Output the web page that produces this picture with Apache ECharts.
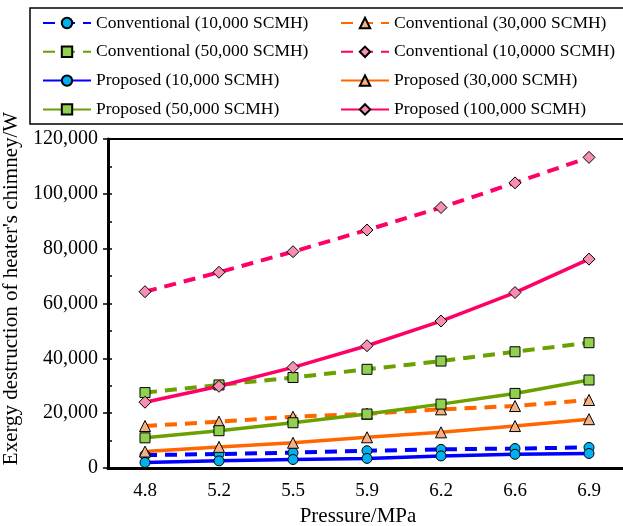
<!DOCTYPE html>
<html>
<head>
<meta charset="utf-8">
<script src="https://cdn.jsdelivr.net/npm/echarts@6/dist/echarts.min.js"></script>
<style>html,body{margin:0;padding:0;background:#fff}#c{width:623px;height:526px}</style>
</head>
<body>
<div id="c"></div>
<script>
const categories = ['4.8', '5.2', '5.5', '5.9', '6.2', '6.6', '6.9'];
const yTicks = [0, 20000, 40000, 60000, 80000, 100000, 120000];
const conv10 = [4700, 5100, 5600, 6300, 6800, 7100, 7500];
const conv30 = [15300, 16900, 18700, 19800, 21400, 22600, 24800];
const conv50 = [27500, 30300, 33000, 36000, 39000, 42400, 45700];
const conv100 = [64300, 71400, 78900, 86800, 95000, 104000, 113300];
const prop10 = [2000, 2600, 3100, 3500, 4400, 5000, 5300];
const prop30 = [6000, 7700, 9200, 11200, 13000, 15300, 17800];
const prop50 = [11000, 13600, 16500, 19700, 23300, 27200, 32100];
const prop100 = [24000, 29800, 36700, 44600, 53600, 64000, 76200];
const names = {
  c10: 'Conventional (10,000 SCMH)', c30: 'Conventional (30,000 SCMH)',
  c50: 'Conventional (50,000 SCMH)', c100: 'Conventional (10,0000 SCMH)',
  p10: 'Proposed (10,000 SCMH)', p30: 'Proposed (30,000 SCMH)',
  p50: 'Proposed (50,000 SCMH)', p100: 'Proposed (100,000 SCMH)'
};
const FONT = '"Liberation Serif", "Times New Roman", serif';
const sty = {
  blue: { line: '#0000FF', fill: '#00B0F0', sym: 'circle', size: 10 },
  orange: { line: '#FF6600', fill: '#F4B183', sym: 'triangle', size: 11 },
  green: { line: '#6AA000', fill: '#92D050', sym: 'rect', size: 10 },
  pink: { line: '#FF0066', fill: '#F78FB3', sym: 'diamond', size: 12 }
};
function mk(name, data, s, dashed) {
  return {
    name, type: 'line', data, symbol: s.sym, symbolSize: s.size,
    lineStyle: { color: s.line, width: dashed ? 4 : 3.5, type: dashed ? [12, 8] : 'solid' },
    itemStyle: { color: s.fill, borderColor: '#000', borderWidth: 1 },
    color: s.line,
    emphasis: { disabled: true }, animation: false
  };
}
const series = [
  mk(names.c10, conv10, sty.blue, true),
  mk(names.c30, conv30, sty.orange, true),
  mk(names.c50, conv50, sty.green, true),
  mk(names.c100, conv100, sty.pink, true),
  mk(names.p10, prop10, sty.blue, false),
  mk(names.p30, prop30, sty.orange, false),
  mk(names.p50, prop50, sty.green, false),
  mk(names.p100, prop100, sty.pink, false)
];
const legendCommon = {
  orient: 'vertical', top: 13, padding: 0, itemWidth: 48, itemHeight: 13, itemGap: 8.8,
  textStyle: { fontFamily: FONT, fontSize: 17.5, color: '#000', lineHeight: 20 },
  selectedMode: false
};
const chart = echarts.init(document.getElementById('c'), null, { renderer: 'canvas' });
chart.setOption({
  backgroundColor: '#fff',
  animation: false,
  grid: { left: 108, right: -3, top: 139, bottom: 58, show: true, borderColor: '#000', borderWidth: 2,
    containLabel: false, outerBoundsMode: 'none' },
  legend: [
    Object.assign({}, legendCommon, { left: 42, data: [names.c10, names.c50, names.p10, names.p50] }),
    Object.assign({}, legendCommon, { left: 340, data: [names.c30, names.c100, names.p30, names.p100] })
  ],
  graphic: [{ type: 'rect', shape: { x: 30, y: 8, width: 620, height: 116 }, style: { fill: 'none', stroke: '#000', lineWidth: 1.5 }, z: 100 }],
  xAxis: {
    type: 'category', data: categories, boundaryGap: true,
    name: 'Pressure/MPa', nameLocation: 'middle', nameGap: 36,
    nameTextStyle: { fontFamily: FONT, fontSize: 21, color: '#000', padding: [0, 18, 0, 0] },
    axisLine: { lineStyle: { color: '#000', width: 3 } },
    axisTick: { alignWithLabel: true, length: 5, lineStyle: { color: '#000', width: 1.5 } },
    axisLabel: { fontFamily: FONT, fontSize: 19, color: '#000', margin: 14 },
    splitLine: { show: false }
  },
  yAxis: [{
    type: 'value', min: 0, max: 120000, interval: 20000,
    name: "Exergy destruction of heater's chimney/W", nameLocation: 'middle', nameGap: 78, nameRotate: 90,
    nameTextStyle: { fontFamily: FONT, fontSize: 21, color: '#000', padding: [0, 0, 0, 30] },
    axisLine: { show: true, lineStyle: { color: '#000', width: 3 } },
    axisTick: { show: true, length: 5, lineStyle: { color: '#000', width: 1.5 } },
    axisLabel: { fontFamily: FONT, fontSize: 20, color: '#000', margin: 10,
      formatter: v => yTicks.indexOf(v) >= 0 ? v.toLocaleString('en-US') : '' },
    splitLine: { show: false }
  }, {
    type: 'value', min: 0, max: 120000, interval: 10000, position: 'left',
    axisLine: { show: false }, axisLabel: { show: false }, splitLine: { show: false },
    axisTick: { show: true, inside: true, length: 4, lineStyle: { color: '#000', width: 1.5 } }
  }],
  series
});
</script>
</body>
</html>
